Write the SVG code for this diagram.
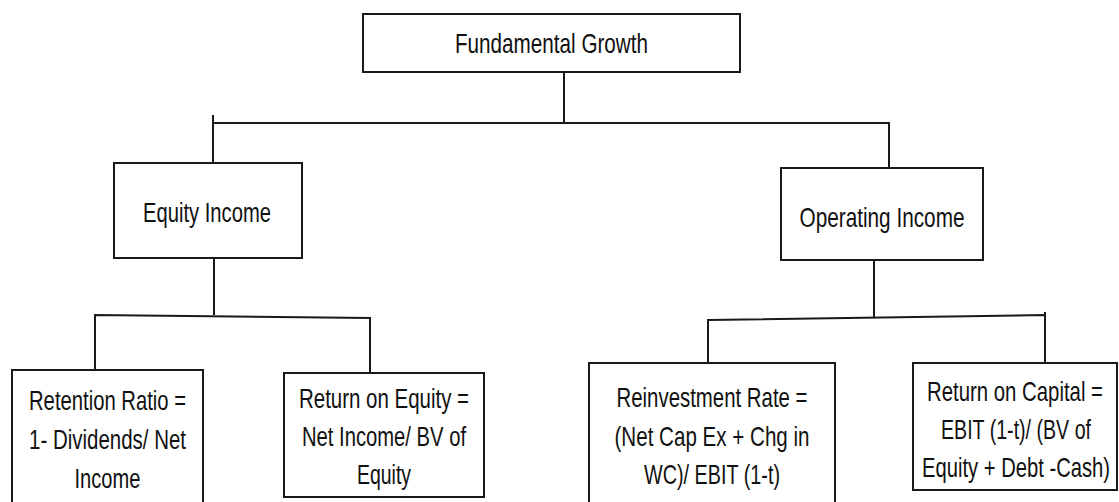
<svg xmlns="http://www.w3.org/2000/svg" width="1119" height="502" viewBox="0 0 1119 502">
<style>
.box{fill:#fff;stroke:#1a1a1a;stroke-width:2}
.ln{fill:none;stroke:#1a1a1a;stroke-width:2}
text{font-family:"Liberation Sans",Arial,sans-serif;font-size:27.5px;fill:#111;text-anchor:middle}
</style>
<rect width="1119" height="502" fill="#fff"/>
<g id="connectors">
<path class="ln" d="M564 72V123"/>
<path class="ln" d="M213 115V163M213 123H889V168"/>
<path class="ln" d="M214 258V315"/>
<path class="ln" d="M95 370V315L370 318V372"/>
<path class="ln" d="M874 260V317"/>
<path class="ln" d="M708 363V320L1045 315V363M1045 312V316"/>
</g>
<g id="fundamental-growth">
<rect class="box" x="363" y="14" width="377" height="58"/>
<text x="551.5" y="53" textLength="193" lengthAdjust="spacingAndGlyphs">Fundamental Growth</text>
</g>
<g id="equity-income">
<rect class="box" x="114" y="163" width="188" height="95"/>
<text x="207" y="222" textLength="128" lengthAdjust="spacingAndGlyphs">Equity Income</text>
</g>
<g id="operating-income">
<rect class="box" x="781" y="168" width="202" height="92"/>
<text x="882" y="227" textLength="165" lengthAdjust="spacingAndGlyphs">Operating Income</text>
</g>
<g id="retention-ratio">
<rect class="box" x="12" y="370" width="191" height="140"/>
<text x="107.5" y="410" textLength="157" lengthAdjust="spacingAndGlyphs">Retention Ratio =</text>
<text x="107.5" y="449" textLength="157" lengthAdjust="spacingAndGlyphs">1- Dividends/ Net</text>
<text x="107.5" y="488" textLength="66" lengthAdjust="spacingAndGlyphs">Income</text>
</g>
<g id="return-on-equity">
<rect class="box" x="284" y="373" width="200" height="124"/>
<text x="384" y="408" textLength="170" lengthAdjust="spacingAndGlyphs">Return on Equity =</text>
<text x="384" y="446" textLength="164" lengthAdjust="spacingAndGlyphs">Net Income/ BV of</text>
<text x="384" y="484" textLength="54" lengthAdjust="spacingAndGlyphs">Equity</text>
</g>
<g id="reinvestment-rate">
<rect class="box" x="589" y="363" width="246" height="150"/>
<text x="712" y="407" textLength="191" lengthAdjust="spacingAndGlyphs">Reinvestment Rate =</text>
<text x="712" y="446" textLength="195" lengthAdjust="spacingAndGlyphs">(Net Cap Ex + Chg in</text>
<text x="712" y="484" textLength="136" lengthAdjust="spacingAndGlyphs">WC)/ EBIT (1-t)</text>
</g>
<g id="return-on-capital">
<rect class="box" x="913" y="363" width="204" height="127"/>
<text x="1015" y="401" textLength="176" lengthAdjust="spacingAndGlyphs">Return on Capital =</text>
<text x="1016" y="439" textLength="150" lengthAdjust="spacingAndGlyphs">EBIT (1-t)/ (BV of</text>
<text x="1016" y="477" textLength="188" lengthAdjust="spacingAndGlyphs">Equity + Debt -Cash)</text>
</g>
</svg>
